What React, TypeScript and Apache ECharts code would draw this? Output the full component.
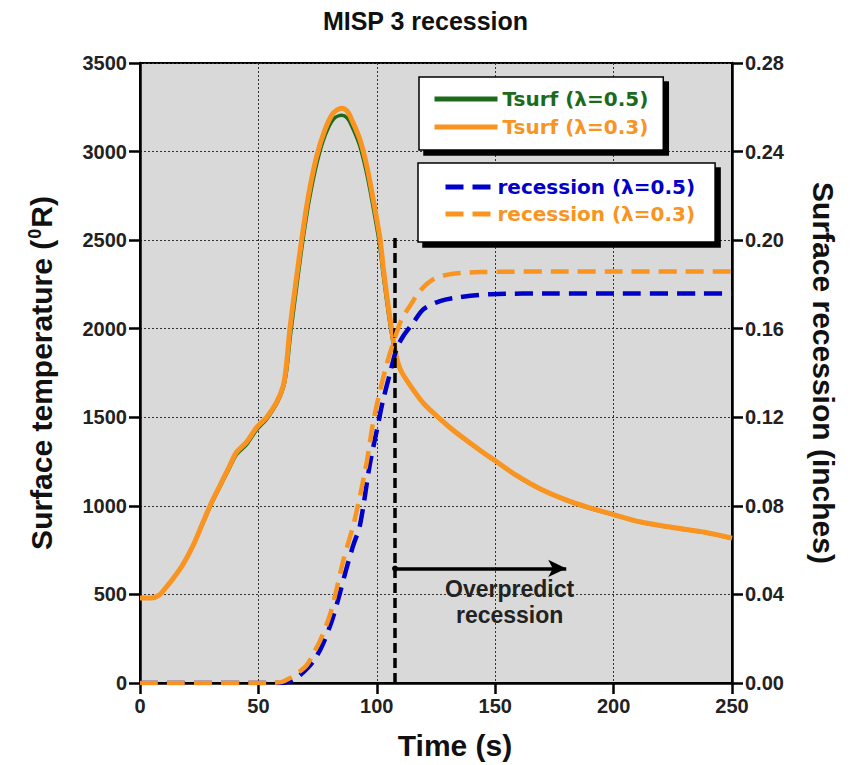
import React, { useEffect, useRef } from "react";
import * as echarts from "echarts";

// ---- Data ----
const TITLE = "MISP 3 recession";
const X_LABEL = "Time (s)";
const Y_LEFT_LABEL = "Surface temperature ({sup|0}R)";
const Y_RIGHT_LABEL = "Surface recession (inches)";

const SERIES_NAMES = ["Tsurf (λ=0.5)", "Tsurf (λ=0.3)", "recession (λ=0.5)", "recession (λ=0.3)"];

// Tsurf (λ=0.3)
const T_TS03 = [0, 5, 8, 11, 14, 18, 22.5, 26.7, 30.3, 33.8, 37.3, 40.8, 45, 49.3, 53.5, 57.7, 60.5, 61.8, 63.3, 66.2, 68.3, 71.1, 74.6, 78.1, 81.6, 85.2, 87.5, 89.4, 92.9, 95.8, 98.5, 101.4, 102.8, 105.6, 107.7, 109, 110.5, 115.4, 120, 126.7, 132, 138, 144, 149.9, 159, 168.9, 180.2, 188.6, 200, 211, 225, 239, 250];
const V_TS03 = [480, 480, 495, 540, 590, 666, 778, 910, 1022, 1116, 1210, 1304, 1360, 1444, 1500, 1585, 1679, 1790, 1998, 2298, 2504, 2748, 2973, 3123, 3217, 3245, 3228, 3180, 3067, 2917, 2729, 2504, 2335, 2054, 1880, 1805, 1755, 1655, 1575, 1491, 1430, 1369, 1310, 1256, 1172, 1097, 1032, 994, 951, 910, 878, 850, 818];

// Tsurf (λ=0.5)
const T_TS05 = [0, 5, 8, 11, 14, 18, 22.5, 26.7, 30.3, 33.8, 37.3, 40.8, 45, 49.3, 53.5, 57.7, 60.5, 62, 63.6, 66.5, 68.6, 71.4, 74.9, 78.3, 81.8, 85.3, 87.4, 89.2, 92.6, 95.5, 98.2, 101.1, 102.6, 105.4, 107.6, 109, 110.5, 115.4, 120, 126.7, 132, 138, 144, 149.9, 159, 168.9, 180.2, 188.6, 200, 211, 225, 239, 250];
const V_TS05 = [480, 480, 495, 540, 590, 666, 778, 905, 1015, 1108, 1200, 1290, 1345, 1430, 1490, 1575, 1665, 1770, 1970, 2270, 2480, 2720, 2945, 3095, 3185, 3205, 3190, 3150, 3040, 2890, 2705, 2480, 2315, 2040, 1870, 1800, 1753, 1652, 1573, 1489, 1428, 1367, 1308, 1254, 1170, 1095, 1030, 992, 949, 908, 876, 848, 816];

// recession (λ=0.5)
const T_R05 = [0, 55, 60, 64, 67, 71, 74, 77, 81, 84, 87, 90, 92.9, 97.1, 100, 102.5, 105.6, 108.4, 111.2, 115.4, 119.7, 126.7, 133.8, 148, 175, 200, 250];
const V_R05 = [0, 0, 0, 0.001, 0.003, 0.007, 0.011, 0.017, 0.028, 0.039, 0.051, 0.062, 0.0713, 0.099, 0.114, 0.127, 0.140, 0.151, 0.1567, 0.1627, 0.1688, 0.1725, 0.1741, 0.1756, 0.1759, 0.1759, 0.1759];

// recession (λ=0.3)
const T_R03 = [0, 55, 60, 63, 66, 70.4, 73, 76, 80.2, 83.1, 86, 90.1, 92.9, 95.8, 98.5, 101.4, 104.2, 107, 110.5, 114, 118.2, 123.9, 130.9, 143.6, 175, 200, 250];
const V_R03 = [0, 0, 0.0005, 0.002, 0.004, 0.008, 0.013, 0.019, 0.0307, 0.0428, 0.056, 0.0713, 0.0846, 0.100, 0.118, 0.132, 0.144, 0.1538, 0.1643, 0.1703, 0.177, 0.1823, 0.1846, 0.1856, 0.1858, 0.1858, 0.1858];

// Annotations (data coordinates)
const VLINE_T = 107.7;
const VLINE_TOP = 2530;
const ARROW_Y = 647;
const ARROW_END_T = 180;
const NOTE_TEXT = "Overpredict\nrecession";
const NOTE_POS = [156.1, 456];

const X_MIN = 0, X_MAX = 250, X_STEP = 50;
const YL_MIN = 0, YL_MAX = 3500, YL_STEP = 500;
const YR_MIN = 0, YR_MAX = 0.28, YR_STEP = 0.04;

const GREEN = "#1c6b1c";
const ORANGE = "#f8941f";
const BLUE = "#0000c8";
const FONT = "'Liberation Sans', Arial, Helvetica, sans-serif";
const LEGEND_FONT = "'DejaVu Sans', 'Liberation Sans', sans-serif";

const zip = (t: number[], v: number[]) => t.map((x, i) => [x, v[i]]);

export default function App() {
  const ref = useRef<HTMLDivElement>(null);
  useEffect(() => {
    if (!ref.current) return;
    const chart = echarts.init(ref.current, undefined, { renderer: "svg" });
    const axisLine = { show: true, onZero: false, lineStyle: { color: "#000", width: 2.5 } };
    const axisTick = { show: true, length: 11, lineStyle: { color: "#000", width: 2.5 } };
    const axisLabel = { fontSize: 20, fontWeight: "bold", color: "#222", fontFamily: FONT, margin: 13 };
    const splitLine = { show: true, lineStyle: { color: "#333", type: [2, 2], width: 1 } };
    const nameStyle = { fontSize: 30, fontWeight: "bold", color: "#111", fontFamily: FONT };
    const legendBase = {
      orient: "vertical",
      backgroundColor: "#fff",
      borderColor: "#000",
      borderWidth: 1.5,
      borderRadius: 0,
      shadowColor: "#000",
      shadowBlur: 0,
      shadowOffsetX: 5,
      shadowOffsetY: 5,
      selectedMode: false,
      itemHeight: 20,
      itemStyle: { color: "rgba(0,0,0,0)", borderWidth: 0, opacity: 0 },
      lineStyle: { width: 5 },
      textStyle: { fontSize: 20, fontWeight: "bold", fontFamily: LEGEND_FONT },
    };
    chart.setOption({
      animation: false,
      backgroundColor: "#fff",
      title: {
        text: TITLE,
        left: "center",
        top: 3,
        textStyle: { fontSize: 25, fontWeight: "bold", color: "#111", fontFamily: FONT },
      },
      grid: {
        left: 140,
        right: 119,
        top: 63,
        bottom: 80,
        show: true,
        backgroundColor: "#d9d9d9",
        borderColor: "#000",
        borderWidth: 2,
      },
      legend: [
        {
          ...legendBase,
          left: 419,
          top: 77,
          padding: [12, 15, 13, 13],
          itemGap: 8,
          itemWidth: 63,
          data: [
            { name: SERIES_NAMES[0], textStyle: { color: GREEN } },
            { name: SERIES_NAMES[1], textStyle: { color: ORANGE } },
          ],
        },
        {
          ...legendBase,
          left: 418,
          top: 163,
          padding: [14, 20, 18, 25],
          itemGap: 7,
          itemWidth: 47,
          data: [
            { name: SERIES_NAMES[2], textStyle: { color: BLUE } },
            { name: SERIES_NAMES[3], textStyle: { color: ORANGE } },
          ],
        },
      ],
      xAxis: {
        type: "value",
        min: X_MIN,
        max: X_MAX,
        interval: X_STEP,
        name: X_LABEL,
        nameLocation: "middle",
        nameGap: 47,
        nameTextStyle: { ...nameStyle, padding: [0, 0, 0, 38] },
        axisLine,
        axisTick,
        axisLabel,
        splitLine,
      },
      yAxis: [
        {
          type: "value",
          position: "left",
          min: YL_MIN,
          max: YL_MAX,
          interval: YL_STEP,
          name: Y_LEFT_LABEL,
          nameLocation: "middle",
          nameGap: 84,
          nameTextStyle: {
            ...nameStyle,
            rich: { sup: { fontSize: 18, fontWeight: "bold", fontFamily: FONT, color: "#111", verticalAlign: "top", padding: [0, 1, 12, 1] } },
          },
          axisLine,
          axisTick,
          axisLabel: { ...axisLabel, formatter: (v: number) => String(v) },
          splitLine,
        },
        {
          type: "value",
          position: "right",
          min: YR_MIN,
          max: YR_MAX,
          interval: YR_STEP,
          name: Y_RIGHT_LABEL,
          nameLocation: "middle",
          nameRotate: -90,
          nameGap: 76,
          nameTextStyle: nameStyle,
          axisLine,
          axisTick,
          axisLabel: { ...axisLabel, formatter: (v: number) => v.toFixed(2) },
          splitLine: { show: false },
        },
      ],
      series: [
        {
          name: SERIES_NAMES[0],
          type: "line",
          data: zip(T_TS05, V_TS05),
          symbol: "none",
          smooth: 0.3,
          lineStyle: { color: GREEN, width: 3.5 },
          itemStyle: { color: GREEN },
          z: 2,
        },
        {
          name: SERIES_NAMES[1],
          type: "line",
          data: zip(T_TS03, V_TS03),
          symbol: "none",
          smooth: 0.3,
          lineStyle: { color: ORANGE, width: 5 },
          itemStyle: { color: ORANGE },
          z: 3,
          markLine: {
            silent: true,
            animation: false,
            label: { show: false },
            data: [
              [
                { coord: [VLINE_T, YL_MIN], symbol: "none", lineStyle: { color: "#000", width: 3.5, type: [10, 5] } },
                { coord: [VLINE_T, VLINE_TOP], symbol: "none" },
              ],
              [
                { coord: [VLINE_T, ARROW_Y], symbol: "circle", symbolSize: 6, lineStyle: { color: "#000", width: 3.5, type: "solid" } },
                { coord: [ARROW_END_T, ARROW_Y], symbol: "arrow", symbolSize: [13, 18] },
              ],
            ],
          },
          markPoint: {
            silent: true,
            symbol: "rect",
            symbolSize: 1,
            itemStyle: { color: "rgba(0,0,0,0)" },
            label: {
              show: true,
              position: "inside",
              formatter: NOTE_TEXT,
              fontSize: 23,
              fontWeight: "bold",
              color: "#222",
              fontFamily: FONT,
              lineHeight: 26,
            },
            data: [{ coord: NOTE_POS }],
          },
        },
        {
          name: SERIES_NAMES[2],
          type: "line",
          yAxisIndex: 1,
          data: zip(T_R05, V_R05),
          symbol: "none",
          smooth: 0.3,
          lineStyle: { color: BLUE, width: 4.5, type: [18, 9] },
          itemStyle: { color: BLUE },
          z: 4,
        },
        {
          name: SERIES_NAMES[3],
          type: "line",
          yAxisIndex: 1,
          data: zip(T_R03, V_R03),
          symbol: "none",
          smooth: 0.3,
          lineStyle: { color: ORANGE, width: 4.5, type: [18, 9] },
          itemStyle: { color: ORANGE },
          z: 5,
        },
      ],
    });
    return () => chart.dispose();
  }, []);
  return <div ref={ref} style={{ position: "fixed", left: 0, top: 0, width: 851, height: 765 }} />;
}
